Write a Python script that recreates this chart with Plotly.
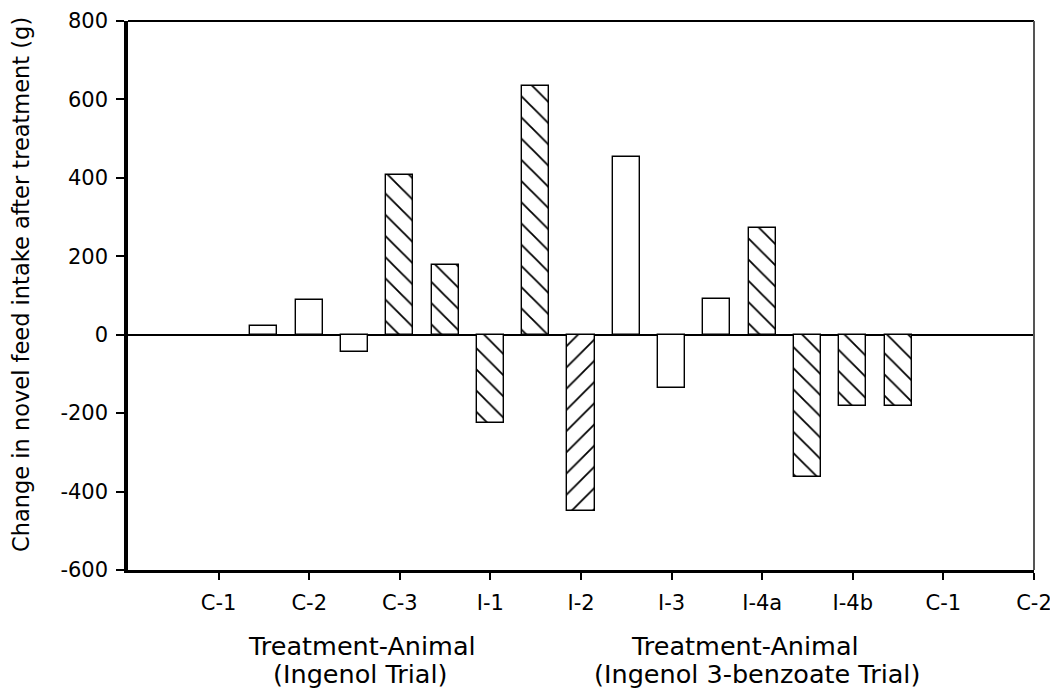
import plotly.graph_objects as go

# Tick labels on the x axis (positions 1..10)
tick_positions = [1, 2, 3, 4, 5, 6, 7, 8, 9, 10]
tick_labels = ["C-1", "C-2", "C-3", "I-1", "I-2", "I-3", "I-4a", "I-4b", "C-1", "C-2"]

# Bars: position on the x axis, value, hatch pattern
bar_positions = [1.5, 2.0, 2.5, 3.0, 3.5, 4.0, 4.5, 5.0, 5.5, 6.0, 6.5, 7.0, 7.5, 8.0, 8.5]
bar_values = [22, 88, -45, 407, 179, -225, 635, -450, 454, -135, 90, 272, -363, -182, -182]
bar_patterns = ["", "", "", "\\", "\\", "\\", "\\", "/", "", "", "", "\\", "\\", "\\", "\\"]

y_ticks = [-600, -400, -200, 0, 200, 400, 600, 800]
y_tick_labels = ["-600", "-400", "-200", "0", "200", "400", "600", "800"]

FONT = "DejaVu Sans"

fig = go.Figure()
fig.add_trace(go.Bar(
    x=bar_positions,
    y=bar_values,
    width=0.3,
    marker=dict(
        color="white",
        line=dict(color="black", width=1.4),
        pattern=dict(shape=bar_patterns, fgcolor="black", bgcolor="white",
                     fgopacity=1, size=15, solidity=0.12, fillmode="overlay"),
    ),
    showlegend=False,
    hoverinfo="x+y",
))

# The page body adds an 8px margin; the figure is sized to fill the rest of the window.
PLOT_TOP, PLOT_BOTTOM = 21, 570   # window pixels
fig.update_layout(
    width=1050, height=684,
    margin=dict(l=120, r=24, t=PLOT_TOP - 8, b=684 - (PLOT_BOTTOM - 8), autoexpand=False),
    paper_bgcolor="white", plot_bgcolor="white",
    font=dict(family=FONT, color="black", size=21),
    xaxis=dict(
        range=[0, 10], tickmode="array", tickvals=tick_positions, ticktext=tick_labels,
        ticks="outside", ticklen=7, tickwidth=1.5, tickcolor="black",
        showline=True, linecolor="black", linewidth=3,
        showgrid=False, zeroline=False, automargin=False,
        tickfont=dict(family=FONT, size=21, color="black"),
        ticklabelstandoff=5, ticklabeloverflow="allow",
    ),
    yaxis=dict(
        range=[-600, 800], tickmode="array", tickvals=y_ticks, ticktext=y_tick_labels,
        ticks="outside", ticklen=8, tickwidth=1.5, tickcolor="black",
        showline=True, linecolor="black", linewidth=3.5,
        showgrid=False, automargin=False,
        zeroline=True, zerolinecolor="black", zerolinewidth=1.5,
        tickfont=dict(family=FONT, size=21, color="black"),
        ticklabelstandoff=4, ticklabeloverflow="allow",
    ),
    bargap=0,
)

# top and right frame lines
fig.add_shape(type="line", xref="paper", yref="paper", x0=0, x1=1, y0=1, y1=1,
              line=dict(color="black", width=2))
fig.add_shape(type="line", xref="paper", yref="paper", x0=1, x1=1, y0=0, y1=1,
              line=dict(color="#555555", width=2))

PH = PLOT_BOTTOM - PLOT_TOP

# Axis titles (positions given in window pixels, plot area spans x 128..1034)
fig.add_annotation(text="Change in novel feed intake after treatment (g)",
                   xref="paper", yref="paper", x=(21 - 128) / 906, y=(PLOT_BOTTOM - 285) / PH,
                   textangle=-90, showarrow=False, xanchor="center", yanchor="middle",
                   font=dict(family=FONT, size=22.5, color="black"))

titles = [
    ("Treatment-Animal", 362, 646),
    ("(Ingenol Trial)", 360, 674),
    ("Treatment-Animal", 745, 646),
    ("(Ingenol 3-benzoate Trial)", 757, 674),
]
for txt, px, py in titles:
    fig.add_annotation(text=txt, xref="paper", yref="paper",
                       x=(px - 128) / 906, y=(PLOT_BOTTOM - py) / PH,
                       showarrow=False, xanchor="center", yanchor="middle",
                       font=dict(family=FONT, size=25.5, color="black"))

fig.write_html("out.html")
